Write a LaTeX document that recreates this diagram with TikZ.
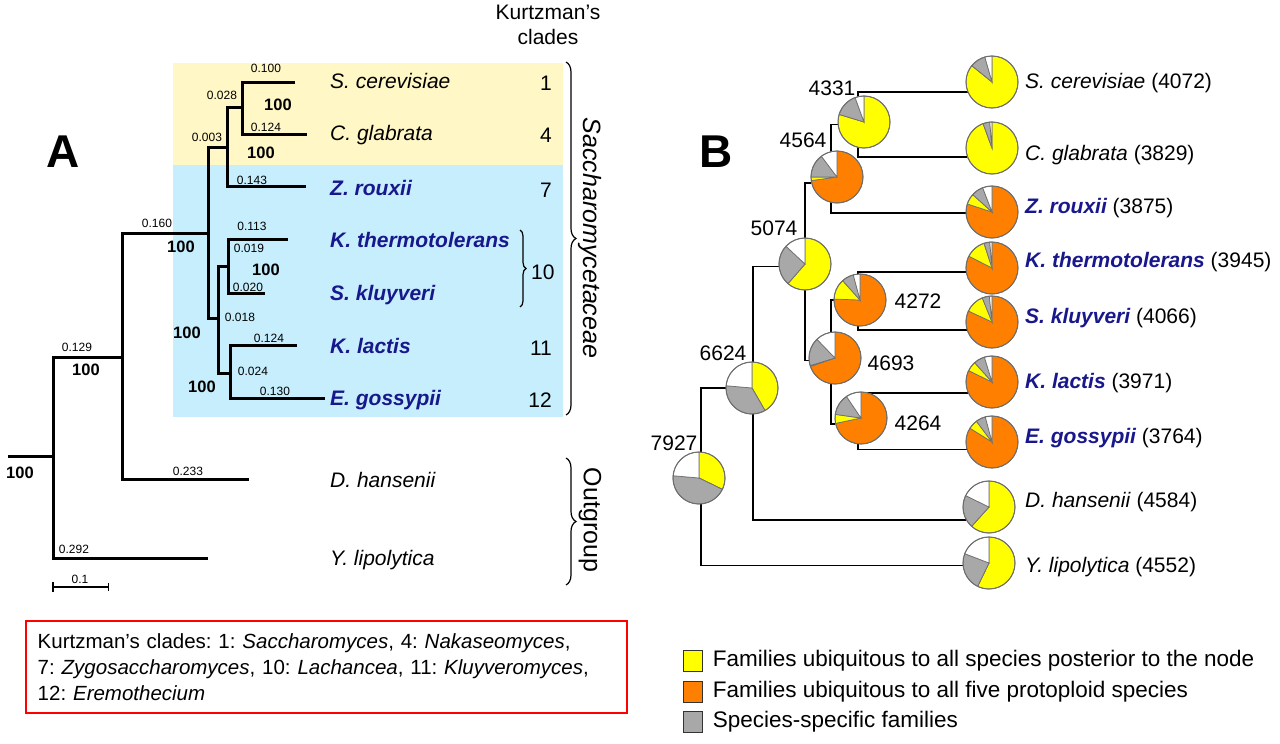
\documentclass[tikz,border=0pt]{standalone}
\usepackage{fontspec}
\setmainfont{Liberation Sans}
\usetikzlibrary{positioning, decorations.pathreplacing}
\frenchspacing

\definecolor{paleyellow}{RGB}{255,247,198}
\definecolor{paleblue}{RGB}{198,238,252}
\definecolor{speciesblue}{RGB}{24,24,140}
\definecolor{pyellow}{RGB}{255,255,0}
\definecolor{porange}{RGB}{255,128,0}
\definecolor{pgrey}{RGB}{168,168,168}
\definecolor{pedge}{RGB}{110,110,110}

\newcommand{\pierad}{26pt}
% pie: node, main colour, end of main, end of yellow, end of grey (white closes it)
\newcommand{\piechart}[5]{%
  \filldraw[wedge, fill=#2] (#1.center) -- ++(90:\pierad) arc[start angle=90, end angle=#3, radius=\pierad] -- cycle;
  \filldraw[wedge, fill=pyellow] (#1.center) -- ++(#3:\pierad) arc[start angle=#3, end angle=#4, radius=\pierad] -- cycle;
  \filldraw[wedge, fill=pgrey] (#1.center) -- ++(#4:\pierad) arc[start angle=#4, end angle=#5, radius=\pierad] -- cycle;
  \filldraw[wedge, fill=white] (#1.center) -- ++(#5:\pierad) arc[start angle=#5, end angle=-270, radius=\pierad] -- cycle;
  \draw[pedge, line width=1pt] (#1.center) circle[radius=\pierad];
}

\begin{document}
\begin{tikzpicture}[
    x=1pt, y=-1pt,
    panel/.style={font=\fontsize{46}{50}\selectfont\bfseries, inner sep=0pt},
    branch/.style={line width=3pt},
    blen/.style={font=\fontsize{12}{13}\selectfont, inner sep=0pt},
    boot/.style={font=\fontsize{16.5}{18}\selectfont\bfseries, inner sep=0pt},
    leaf/.style={anchor=west, inner sep=0pt, text height=15pt, text depth=4.5pt, font=\fontsize{21}{25}\selectfont},
    num/.style={inner sep=0pt, font=\fontsize{21}{25}\selectfont},
    clade/.style={num, anchor=east},
    bracelabel/.style={inner sep=0pt, rotate=-90, font=\fontsize{25}{28}\selectfont},
    link/.style={line width=1.4pt},
    pienode/.style={circle, minimum size=52pt, inner sep=0pt},
    wedge/.style={draw=pedge, line width=0.7pt},
    key/.style={draw=black!80, line width=1.2pt, minimum width=19pt, minimum height=21pt, inner sep=0pt},
    keytext/.style={anchor=west, inner sep=0pt, font=\fontsize{22.5}{25}\selectfont},
]
\useasboundingbox (0,0) rectangle (1280,744);

% Panel A
\node[panel] (A) at (63,152) {A};

\fill[paleyellow] (173,63) rectangle (563,165);
\fill[paleblue] (173,165) rectangle (563,417);

\node[num, align=center] (kurtz) at (548,25) {Kurtzman’s\\clades};

% tree A
\coordinate (n1) at (242,107);
\coordinate (n2) at (227,147);
\coordinate (n3) at (208,233);
\coordinate (n4) at (218,318);
\coordinate (n5) at (228,266);
\coordinate (n6) at (230,373);
\coordinate (n7) at (122,357);
\coordinate (n8) at (53,456);

\draw[branch] (295,82) -| (n1) |- (307,134);
\draw[branch] (n1) -| (n2) |- (306,186);
\draw[branch] (n2) -| (n3) |- (n4);
\draw[branch] (288,239) -| (n5) |- (265,293);
\draw[branch] (n5) -| (n4) |- (n6);
\draw[branch] (297,345) -| (n6) |- (325,398);
\draw[branch] (n3) -| (n7) |- (249,479);
\draw[branch] (n7) -| (n8) |- (208,558);
\draw[branch] (n8) -- (8,456);

% scale bar
\draw[line width=2.5pt] (53,587) -- (108,587);
\draw[line width=1.5pt] (53,582) -- (53,592);
\draw[line width=1pt] (108,583) -- (108,591);
\node[blen] (scale) at (80,579) {0.1};

% branch lengths
\node[blen] at (266,68) {0.100};
\node[blen] at (222,95) {0.028};
\node[blen] at (266,127) {0.124};
\node[blen] at (207,137) {0.003};
\node[blen] at (252,180) {0.143};
\node[blen] at (157,223) {0.160};
\node[blen] at (252,226) {0.113};
\node[blen] at (249,248) {0.019};
\node[blen] at (248,287) {0.020};
\node[blen] at (240,317) {0.018};
\node[blen] at (269,338) {0.124};
\node[blen] at (253,371) {0.024};
\node[blen] at (275,391) {0.130};
\node[blen] at (77,347) {0.129};
\node[blen] at (188,471) {0.233};
\node[blen] at (74,549) {0.292};

% bootstraps
\node[boot] at (278,105) {100};
\node[boot] at (261,153) {100};
\node[boot] at (181,247) {100};
\node[boot] at (266,270) {100};
\node[boot] at (187,333) {100};
\node[boot] at (202,387) {100};
\node[boot] at (86,370) {100};
\node[boot] at (20,473) {100};

% species A
\node[leaf] (aSc) at (330,83) {\itshape S. cerevisiae};
\node[leaf] (aCg) at (330,135) {\itshape C. glabrata};
\node[leaf, text=speciesblue] (aZr) at (330,190) {\bfseries\itshape Z. rouxii};
\node[leaf, text=speciesblue] (aKt) at (330,242) {\bfseries\itshape K. thermotolerans};
\node[leaf, text=speciesblue] (aSk) at (330,295) {\bfseries\itshape S. kluyveri};
\node[leaf, text=speciesblue] (aKl) at (330,348) {\bfseries\itshape K. lactis};
\node[leaf, text=speciesblue] (aEg) at (330,400) {\bfseries\itshape E. gossypii};
\node[leaf] (aDh) at (330,482) {\itshape D. hansenii};
\node[leaf] (aYl) at (330,560) {\itshape Y. lipolytica};

\node[clade] (c1) at (552,83) {1};
\node[clade] (c4) at (552,135) {4};
\node[clade] (c7) at (552,190) {7};
\node[clade] (c11) at (552,348) {11};
\node[clade] (c12) at (552,400) {12};
\draw[line width=1.2pt, decorate, decoration={brace, amplitude=6pt}] (520,230) -- (520,307);
\node[num, anchor=west] (c10) at (531,272) {10};

% families
\draw[line width=1.2pt, decorate, decoration={brace, amplitude=10pt}] (566,62) -- (566,415);
\node[bracelabel] (sacch) at (590,238) {\itshape Saccharomycetaceae};
\draw[line width=1.2pt, decorate, decoration={brace, amplitude=10pt}] (566,458) -- (566,585);
\node[bracelabel] (outgr) at (590,520) {Outgroup};

% Panel B
\node[panel] (B) at (716,152) {B};

\node[pienode] (pSc) at (992,82) {};
\node[pienode] (pCg) at (992,148) {};
\node[pienode] (pZr) at (992,212) {};
\node[pienode] (pKt) at (992,268) {};
\node[pienode] (pSk) at (992,322) {};
\node[pienode] (pKl) at (992,382) {};
\node[pienode] (pEg) at (992,442) {};
\node[pienode] (pDh) at (989,507) {};
\node[pienode] (pYl) at (989,563) {};

\node[pienode] (p4331) at (864,122) {};
\node[pienode] (p4564) at (837,177) {};
\node[pienode] (p5074) at (805,264) {};
\node[pienode] (p4272) at (860,300) {};
\node[pienode] (p4693) at (835,358) {};
\node[pienode] (p4264) at (861,418) {};
\node[pienode] (p6624) at (752,388) {};
\node[pienode] (p7927) at (699,478) {};

% tree B
\draw[link] (pSc.202) -| ([xshift=-6pt]p4331.center) |- (pCg.200);
\draw[link] (p4331.185) -| ([xshift=-6pt]p4564.center) |- (pZr.182);
\draw[link] (p4564.193) -| (p5074.center) |- (p4693.185);
\draw[link] (p5074.186) -| ([xshift=1pt]p6624.center) |- (pDh.210);
\draw[link] (p6624.west) -| ([xshift=2pt]p7927.center) |- (pYl.185);
\draw[link] (pKt.189) -| ([xshift=-2pt]p4272.center) |- (pSk.198);
\draw[link] (p4272.west) -| ([xshift=-4pt]p4693.center) |- (p4264.193);
\draw[link] (pKl.205) -| ([xshift=-3pt]p4264.center) |- (pEg.196);

\piechart{pSc}{pyellow}{-219}{-219}{-254}
\piechart{pCg}{pyellow}{-250}{-250}{-265}
\piechart{pZr}{porange}{-198}{-222}{-249}
\piechart{pKt}{porange}{-207}{-252}{-265}
\piechart{pSk}{porange}{-205}{-248}{-264}
\piechart{pKl}{porange}{-206}{-228}{-253}
\piechart{pEg}{porange}{-212}{-233}{-255}
\piechart{pDh}{pyellow}{-132}{-132}{-206}
\piechart{pYl}{pyellow}{-116}{-116}{-201}
\piechart{p4331}{pyellow}{-197}{-197}{-250}
\piechart{p4564}{porange}{-172}{-180}{-233}
\piechart{p5074}{pyellow}{-131}{-131}{-223}
\piechart{p4272}{porange}{-182}{-228}{-255}
\piechart{p4693}{porange}{-161}{-163}{-226}
\piechart{p4264}{porange}{-168}{-188}{-236}
\piechart{p6624}{pyellow}{-60}{-60}{-185}
\piechart{p7927}{pyellow}{-26}{-26}{-185}

% node sizes
\node[num] (l4331) at (832,88) {4331};
\node[num] (l4564) at (803,140) {4564};
\node[num] (l5074) at (774,228) {5074};
\node[num] (l4272) at (918,301) {4272};
\node[num] (l4693) at (891,363) {4693};
\node[num] (l4264) at (918,423) {4264};
\node[num] (l6624) at (723,353) {6624};
\node[num] (l7927) at (674,443) {7927};

% species B
\node[leaf] (bSc) at (1025,83) {\textit{S. cerevisiae} (4072)};
\node[leaf] (bCg) at (1025,155) {\textit{C. glabrata} (3829)};
\node[leaf] (bZr) at (1025,208) {\textcolor{speciesblue}{\bfseries\itshape Z. rouxii} (3875)};
\node[leaf] (bKt) at (1025,262) {\textcolor{speciesblue}{\bfseries\itshape K. thermotolerans} (3945)};
\node[leaf] (bSk) at (1025,318) {\textcolor{speciesblue}{\bfseries\itshape S. kluyveri} (4066)};
\node[leaf] (bKl) at (1025,383) {\textcolor{speciesblue}{\bfseries\itshape K. lactis} (3971)};
\node[leaf] (bEg) at (1025,438) {\textcolor{speciesblue}{\bfseries\itshape E. gossypii} (3764)};
\node[leaf] (bDh) at (1025,502) {\textit{D. hansenii} (4584)};
\node[leaf] (bYl) at (1025,567) {\textit{Y. lipolytica} (4552)};

% Legends
\node[draw=red, line width=1.5pt, anchor=north west, minimum width=601pt, minimum height=92pt,
      text width=577pt, align=left, inner xsep=12pt, font=\fontsize{20.5}{26}\selectfont] (kbox) at (25,620)
  {Kurtzman’s clades: 1: \textit{Saccharomyces}, 4: \textit{Nakaseomyces},\\
   7: \textit{Zygosaccharomyces}, 10: \textit{Lachancea}, 11: \textit{Kluyveromyces},\\
   12: \textit{Eremothecium}};

\node[key, fill=pyellow] (k1) at (693,661) {};
\node[keytext, right=9.5pt of k1] (t1) {Families ubiquitous to all species posterior to the node};
\node[key, fill=porange] (k2) at (693,692) {};
\node[keytext, right=9.5pt of k2] (t2) {Families ubiquitous to all five protoploid species};
\node[key, fill=pgrey] (k3) at (693,722) {};
\node[keytext, right=9.5pt of k3] (t3) {Species-specific families};

\end{tikzpicture}
\end{document}
